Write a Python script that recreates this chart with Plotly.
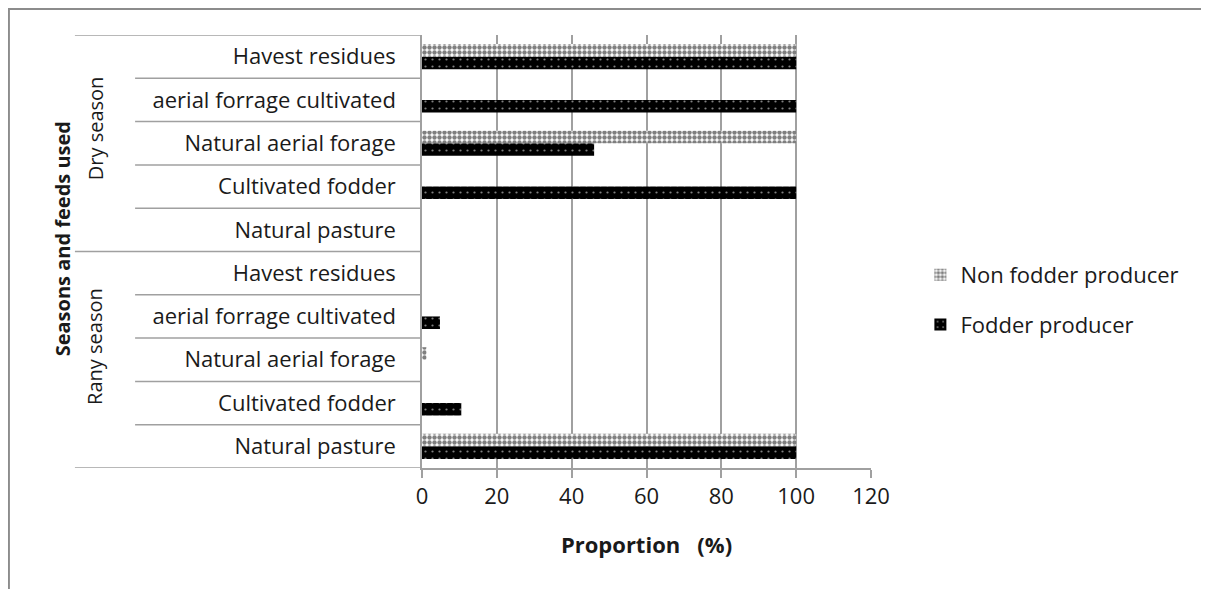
import plotly.graph_objects as go

# feed categories, bottom to top (rainy season first, then dry season)
feeds = [
    "Natural pasture",
    "Cultivated fodder",
    "Natural aerial forage",
    "aerial forrage cultivated",
    "Havest residues",
    "Natural pasture",
    "Cultivated fodder",
    "Natural aerial forage",
    "aerial forrage cultivated",
    "Havest residues",
]
seasons = ["Rany season", "Dry season"]
fodder_producer = [100, 10.5, 0, 4.8, 0, 0, 100, 46, 100, 100]
non_fodder_producer = [100, 0, 1.2, 0, 0, 0, 0, 100, 0, 100]
x_ticks = [0, 20, 40, 60, 80, 100, 120]

FONT = "Open Sans"
GRID = "#a0a0a0"
pos = list(range(len(feeds)))

fig = go.Figure()
fig.add_trace(go.Bar(
    y=pos, x=fodder_producer, orientation="h", name="Fodder producer",
    legendrank=2, legendgroup="fodder",
    marker=dict(color="black", line=dict(width=0),
                pattern=dict(shape=".", fgcolor="white", bgcolor="black",
                             size=7, solidity=0.08)),
))
fig.add_trace(go.Bar(
    y=pos, x=non_fodder_producer, orientation="h", name="Non fodder producer",
    legendrank=1, legendgroup="nonfodder",
    marker=dict(color="white", line=dict(width=0),
                pattern=dict(shape=".", fgcolor="black", bgcolor="white",
                             size=5, solidity=0.62)),
))

# category separators on the left (multi-level axis look)
shapes = []
for b in [i - 0.5 for i in range(len(feeds) + 1)]:
    outer = b in (-0.5, 4.5, 9.5)
    shapes.append(dict(type="line", xref="paper", yref="y",
                       x0=-0.773 if outer else -0.639, x1=0, y0=b, y1=b,
                       line=dict(color=GRID, width=1.5)))
# outer border of the chart
shapes.append(dict(type="rect", xref="paper", yref="paper",
                   x0=-0.92, x1=3, y0=-3, y1=1.06,
                   line=dict(color="#8c8c8c", width=2), layer="below"))

annotations = [
    dict(text="Dry season", x=-0.728, xref="paper", y=7.35, yref="y",
         xanchor="center", yanchor="middle",
         textangle=-90, showarrow=False, font=dict(size=20)),
    dict(text="Rany season", x=-0.728, xref="paper", y=2.3, yref="y",
         xanchor="center", yanchor="middle",
         textangle=-90, showarrow=False, font=dict(size=20)),
    dict(text="<b>Seasons and feeds used</b>", x=-0.80, xref="paper",
         y=0.53, yref="paper", xanchor="center", yanchor="middle",
         textangle=-90, showarrow=False, font=dict(size=20)),
]

fig.update_layout(
    width=1201, height=581,
    margin=dict(l=414, r=338, t=27, b=121),
    paper_bgcolor="white", plot_bgcolor="white",
    font=dict(family=FONT, size=22, color="#1a1a1a"),
    barmode="group", bargap=0.42, bargroupgap=0,
    shapes=shapes, annotations=annotations,
    legend=dict(x=1.11, y=0.388, xanchor="left", yanchor="middle",
                traceorder="grouped", tracegroupgap=18,
                font=dict(size=22)),
    showlegend=True,
)
fig.update_xaxes(
    range=[0, 120], tickvals=x_ticks, showgrid=True, gridcolor=GRID,
    gridwidth=1.5, showline=True, linecolor=GRID, linewidth=1.5,
    ticks="outside", ticklen=8, tickcolor=GRID, tickwidth=1.5,
    zeroline=False,
    title=dict(text="<b>Proportion   (%)</b>", standoff=28,
               font=dict(size=22)),
)
fig.update_yaxes(
    range=[-0.5, 9.5], tickvals=pos, ticktext=feeds, showgrid=False,
    showline=True, linecolor=GRID, linewidth=1.5, ticks="",
    ticklabelstandoff=20, zeroline=False,
)

fig.write_html("out.html")
